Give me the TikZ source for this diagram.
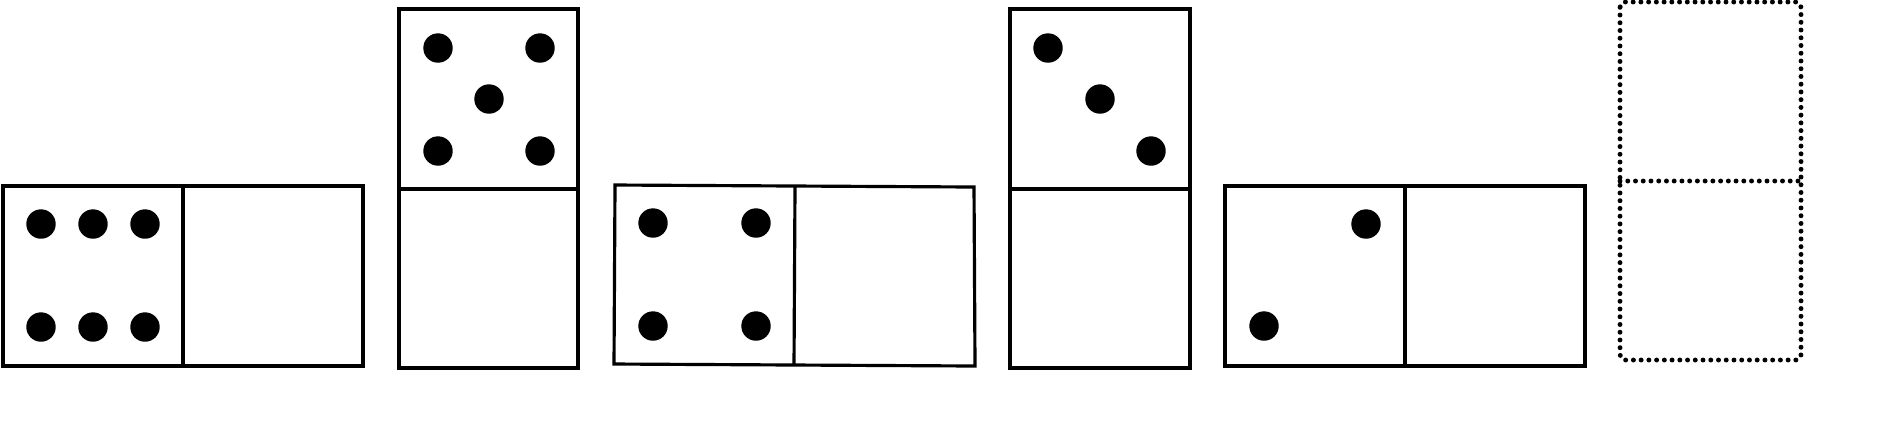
\documentclass[tikz,border=0pt]{standalone}
\usetikzlibrary{calc}
\tikzset{
  tile/.style={draw=black,line width=0.9pt,fill=white},
  divider/.style={draw=black,line width=0.9pt},
  pip/.style={fill=black},
  ghost tile/.style={draw=black,line width=1.4pt,dash pattern=on 0pt off 2.2pt,
    line cap=round,rounded corners=1.5pt},
}
\newcommand{\pipat}[2]{\fill[pip] (#1,#2) circle[radius=0.147cm];}

\begin{document}
\begin{tikzpicture}[x=0.01cm,y=-0.01cm]
  \useasboundingbox (0,0) rectangle (1895,435);

  % six | blank
  \draw[tile] (3,186) rectangle (363,366);
  \draw[divider] (183,186) -- (183,366);
  \foreach \x in {41,93,145}
    \foreach \y in {224,327}
      {\pipat{\x}{\y}}

  % five over blank
  \draw[tile] (399,9) rectangle (578,368);
  \draw[divider] (399,189) -- (578,189);
  \pipat{438}{48} \pipat{540}{48}
  \pipat{489}{99}
  \pipat{438}{151} \pipat{540}{151}

  % four | blank (slightly skewed)
  \draw[tile] (615,185) -- (974,187) -- (975,366) -- (614,364) -- cycle;
  \draw[divider] (795,186) -- (794,365);
  \pipat{653}{223} \pipat{756}{223}
  \pipat{653}{326} \pipat{756}{326}

  % three over blank
  \draw[tile] (1010,9) rectangle (1190,368);
  \draw[divider] (1010,189) -- (1190,189);
  \pipat{1048}{48}
  \pipat{1100}{99}
  \pipat{1151}{151}

  % two | blank
  \draw[tile] (1225,186) rectangle (1585,366);
  \draw[divider] (1405,186) -- (1405,366);
  \pipat{1366}{224}
  \pipat{1264}{326}

  % empty tile, dotted
  \draw[ghost tile] (1620,2) rectangle (1801,360);
  \draw[ghost tile] (1620,181) -- (1801,181);
\end{tikzpicture}
\end{document}
